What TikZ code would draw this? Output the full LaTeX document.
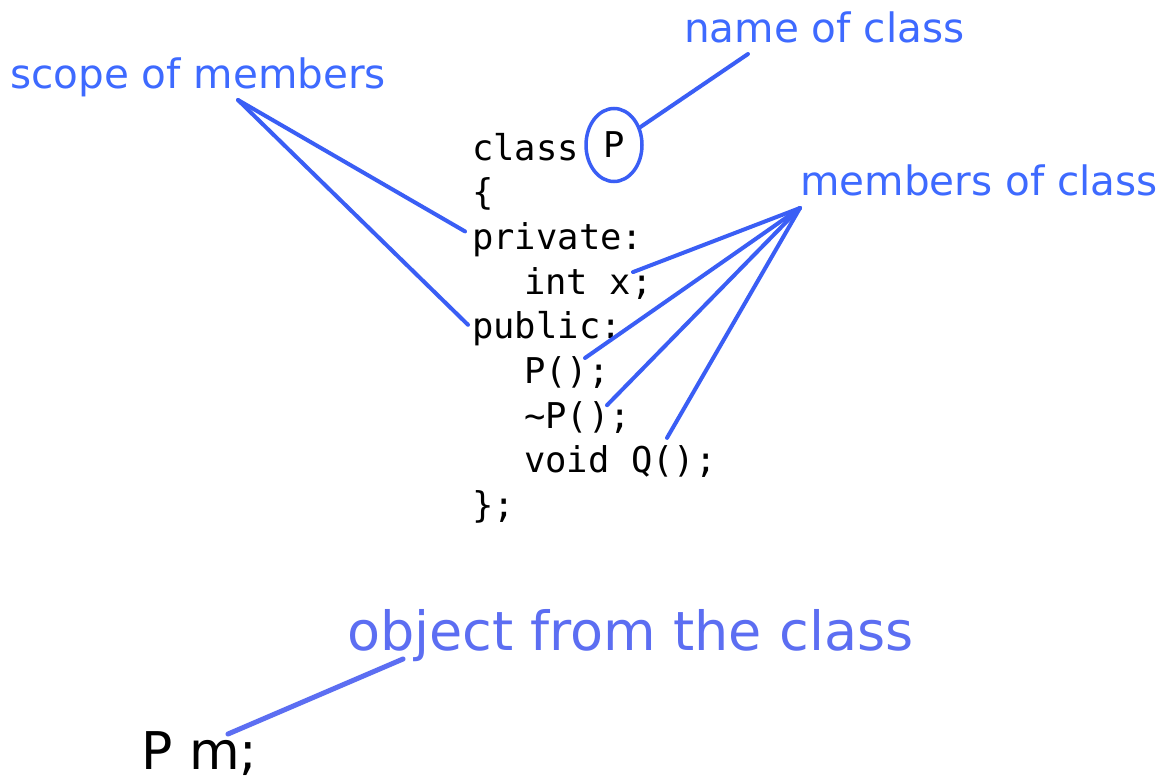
\documentclass[tikz,border=0pt]{standalone}
\usepackage{fontspec}
\usetikzlibrary{calc,shapes.geometric}
\newfontfamily\labelfont{DejaVu Sans}
\newfontfamily\codefont{DejaVu Sans Mono}
\definecolor{notecol}{RGB}{62,106,255}
\definecolor{objcol}{RGB}{92,110,242}
\definecolor{linkcol}{RGB}{58,94,245}

\begin{document}
\begin{tikzpicture}[x=1pt,y=-1pt,
  note/.style={anchor=base west, inner sep=0pt, text=notecol,
               font=\labelfont\fontsize{40.5}{48}\selectfont},
  code/.style={anchor=base west, inner sep=0pt,
               font=\codefont\fontsize{35.5}{42}\selectfont},
  conn/.style={draw=linkcol, line width=4pt, line cap=round},
]
\useasboundingbox (0,0) rectangle (1171,779);
\fill[white] (0,0) rectangle (1171,779);

% class declaration
\node[code] (lclass) at (472,160)   {class};
\node[code] (lopen)  at (472,204.7) {\{};
\node[code] (lpriv)  at (472,249.4) {private:};
\node[code] (lint)   at (524,294.1) {int x;};
\node[code] (lpub)   at (472,338.8) {public:};
\node[code] (lctor)  at (524,383.5) {P();};
\node[code] (ldtor)  at (524,428.2) {\string~P();};
\node[code] (lq)     at (524,472.9) {void Q();};
\node[code] (lclose) at (472,517.6) {\};};

% circled class name
\node[ellipse, draw=linkcol, line width=3.5pt, inner sep=0pt,
      minimum width=56, minimum height=73,
      font=\codefont\fontsize{35.5}{42}\selectfont] (pname) at (614,145) {P};

% annotations
\node[note] (scope)   at (10,88)   {scope of members};
\node[note] (nameof)  at (684,42)  {name of class};
\node[note] (members) at (800,195) {members of class};
\node[note, text=objcol, font=\labelfont\fontsize{54}{62}\selectfont]
      (object) at (347,650) {object from the class};
\node[anchor=base west, inner sep=0pt,
      font=\labelfont\fontsize{52}{60}\selectfont] (decl) at (141,769) {P m;};

% connector end points
\coordinate (scopeFoot) at ($(scope.base west)+(228,12)$);
\coordinate (privEnd)   at ($(lpriv.base west)+(-7,-18)$);
\coordinate (pubEnd)    at ($(lpub.base west)+(-4,-14)$);
\coordinate (nameFoot)  at ($(nameof.base west)+(64,12)$);
\coordinate (memFoot)   at ($(members.base west)+(0,13)$);
\coordinate (intEnd)    at ($(lint.base west)+(109,-22)$);
\coordinate (ctorEnd)   at ($(lctor.base west)+(61,-25.5)$);
\coordinate (dtorEnd)   at ($(ldtor.base west)+(83,-23)$);
\coordinate (qEnd)      at ($(lq.base west)+(143,-35)$);
\coordinate (objFoot)   at ($(object.base west)+(56,9)$);
\coordinate (declEnd)   at ($(decl.base west)+(87,-35)$);

% connectors
\draw[conn] (scopeFoot) -- (privEnd);
\draw[conn] (scopeFoot) -- (pubEnd);
\draw[conn] (nameFoot) -- (pname);
\draw[conn] (memFoot) -- (intEnd);
\draw[conn] (memFoot) -- (ctorEnd);
\draw[conn] (memFoot) -- (dtorEnd);
\draw[conn] (memFoot) -- (qEnd);
\draw[conn, draw=objcol, line width=5pt] (objFoot) -- (declEnd);
\end{tikzpicture}
\end{document}
